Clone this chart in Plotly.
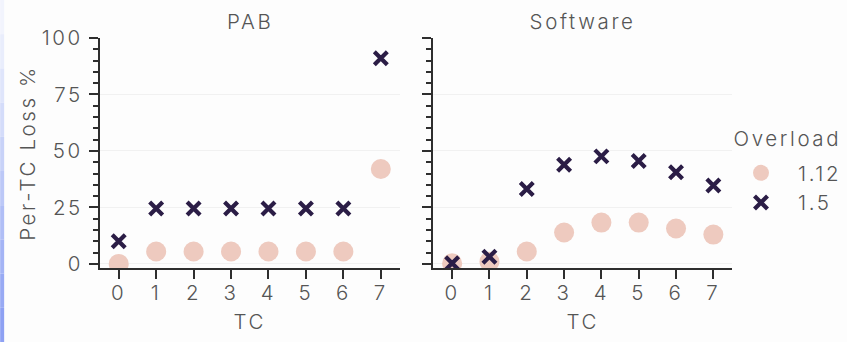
import plotly.graph_objects as go

# Per-traffic-class loss, two overload factors, two schemes
tc = [0, 1, 2, 3, 4, 5, 6, 7]
panels = ["PAB", "Software"]
overloads = ["1.12", "1.5"]
legend_title = "Overload"

pab_112 = [0, 5.5, 5.5, 5.5, 5.5, 5.5, 5.5, 42]
pab_15 = [10, 24.5, 24.5, 24.5, 24.5, 24.5, 24.5, 91]
sw_112 = [0.3, 1, 5.5, 13.9, 18.3, 18.3, 15.7, 13]
sw_15 = [0.3, 3.2, 33.2, 43.9, 47.6, 45.6, 40.6, 34.7]

y_ticks = [0, 25, 50, 75, 100]

FONT = "Inter"
FS = 20.5
TXT = "#555555"
AXC = "#2e2e2e"
C_LOW = "#eecabf"
C_HIGH = "#2b1d46"

W, H = 847, 342
ML, MR, MT, MB = 100, 114, 38, 74
PW = W - ML - MR
PH = H - MT - MB

def tfont(size=FS):
    return dict(family=FONT, size=size, color=TXT, weight=300)

fig = go.Figure()

series = [(pab_112, pab_15, "x", "y"), (sw_112, sw_15, "x2", "y2")]
for i, (lo, hi, xa, ya) in enumerate(series):
    fig.add_trace(go.Scatter(
        x=tc, y=lo, xaxis=xa, yaxis=ya, mode="markers", name=overloads[0],
        legendgroup=overloads[0], showlegend=(i == 0),
        marker=dict(symbol="circle", size=20, color=C_LOW, line=dict(width=0)),
    ))
for i, (lo, hi, xa, ya) in enumerate(series):
    fig.add_trace(go.Scatter(
        x=tc, y=hi, xaxis=xa, yaxis=ya, mode="markers", name=overloads[1],
        legendgroup=overloads[1], showlegend=(i == 0),
        marker=dict(symbol="x-thin", size=13,
                    line=dict(width=4.2, color=C_HIGH), color=C_HIGH),
    ))

xcommon = dict(
    range=[-0.5, 7.5], tickvals=tc, ticktext=[str(t) for t in tc],
    showline=True, linecolor=AXC, linewidth=2, ticks="outside", ticklen=9,
    tickwidth=2, tickcolor=AXC, showgrid=False, zeroline=False,
    tickfont=tfont(), ticklabelstandoff=-4,
    title=dict(text="TC", font=tfont(), standoff=11),
)
ycommon = dict(
    range=[-1.8, 100], tickvals=y_ticks,
    showline=True, linecolor=AXC, linewidth=2, ticks="outside", ticklen=9,
    tickwidth=2, tickcolor=AXC, showgrid=True, gridcolor="#f1f1f1", gridwidth=1,
    zeroline=False, tickfont=tfont(), ticklabelstandoff=2,
    minor=dict(ticks="outside", ticklen=5, tickwidth=1.5, tickcolor=AXC,
               dtick=5, tick0=0, showgrid=False),
)

fig.update_layout(
    width=W, height=H,
    margin=dict(l=ML, r=MR, t=MT, b=MB),
    paper_bgcolor="#fdfdfd", plot_bgcolor="#fdfdfd",
    xaxis=dict(domain=[0, 300 / PW], anchor="y", **xcommon),
    xaxis2=dict(domain=[334 / PW, 1], anchor="y2", **xcommon),
    yaxis=dict(domain=[0, 1], anchor="x",
               title=dict(text="Per-TC Loss %", font=tfont(), standoff=8),
               **ycommon),
    yaxis2=dict(domain=[0, 1], anchor="x2", showticklabels=False, **ycommon),
    legend=dict(
        font=tfont(),
        x=(724 - ML) / PW, xanchor="left",
        y=(H - MB - 153) / PH, yanchor="top",
        bgcolor="rgba(0,0,0,0)", tracegroupgap=0, itemwidth=64,
    ),
    font=dict(family=FONT, color=TXT),
)

# legend heading
fig.add_annotation(text=legend_title, x=(743 - ML) / PW, xref="paper", xanchor="left",
                   y=(H - MB - 138) / PH, yref="paper", yanchor="middle",
                   showarrow=False, font=tfont())

# panel titles
for name, xa in zip(panels, ["x domain", "x2 domain"]):
    fig.add_annotation(text=name, x=0.5, y=1.0, xref=xa, yref="paper",
                       yanchor="bottom", yshift=2, showarrow=False,
                       font=tfont())

# thin blue strip along the left edge of the page
strip_cols = ["#f2f4fd", "#e9edfc", "#dfe5fb", "#d4dcfa", "#c8d2f8",
              "#bcc8f7", "#b0bef6", "#a4b4f5", "#98aaf4", "#8ea1f3"]
n = len(strip_cols)
x0 = -ML / PW
x1 = (4 - ML) / PW
ytop = 1 + MT / PH
ybot = -MB / PH
for k, c in enumerate(strip_cols):
    a = ytop - (ytop - ybot) * k / n
    b = ytop - (ytop - ybot) * (k + 1) / n
    fig.add_shape(type="rect", xref="paper", yref="paper", x0=x0, x1=x1,
                  y0=b, y1=a, fillcolor=c, line=dict(width=0), layer="below")

# widen the tracking of every label; let legend text overflow its box
spacing_js = """
document.querySelectorAll('.main-svg text').forEach(function(t){
  t.style.letterSpacing = '2.6px';
});
document.querySelectorAll('.legend, .legend *').forEach(function(e){
  e.removeAttribute('clip-path');
});
"""

fig.write_html("out.html", post_script=spacing_js)
